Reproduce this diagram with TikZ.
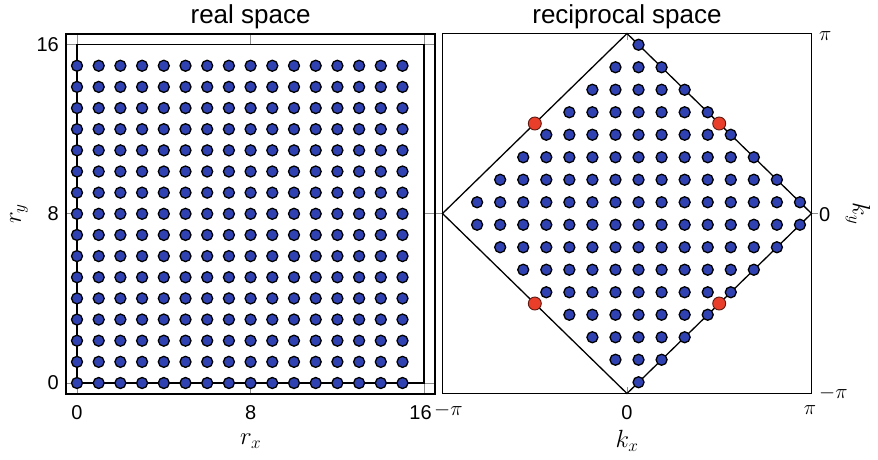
\documentclass[tikz,border=0pt]{standalone}
\usepackage{fontspec}
\setmainfont{Liberation Sans}
\definecolor{dotblue}{RGB}{48,66,178}
\definecolor{dotred}{RGB}{232,62,42}
\begin{document}
\begin{tikzpicture}[x=1pt,y=-1pt,
  bdot/.style={circle,draw=black,line width=1.3pt,fill=dotblue,inner sep=0pt,minimum size=11pt},
  rdot/.style={circle,draw=black!60!dotred,line width=0.9pt,fill=dotred,inner sep=0pt,minimum size=13pt},
  frame/.style={draw=black,line width=1.5pt},
  gridl/.style={draw=black!45,line width=0.8pt},
  bz/.style={draw=black,line width=1.3pt},
  title/.style={font=\fontsize{26}{26}\selectfont,inner sep=0pt},
  num/.style={font=\fontsize{20}{20}\selectfont,inner sep=0pt},
  mlab/.style={font=\fontsize{27}{27}\selectfont,inner sep=0pt},
  plab/.style={font=\fontsize{21}{21}\selectfont,inner sep=0pt}]
\useasboundingbox (0,0) rectangle (878,459);
% ---------- left panel: real space ----------
\draw[gridl] (77,34) -- (77,393.8);
\draw[gridl] (424.2,34) -- (424.2,393.8);
\draw[gridl] (66.2,383) -- (435,383);
\draw[gridl] (66.2,44.6) -- (435,44.6);
\draw[gridl] (250.6,34) -- (250.6,44.6);
\draw[gridl] (250.6,393.8) -- (250.6,383);
\draw[gridl] (66.2,213.8) -- (77,213.8);
\draw[gridl] (435,213.8) -- (424.2,213.8);
\draw[line width=1.5pt] (77,383) rectangle (424.2,44.6);
\draw[frame] (66.2,34) rectangle (435,393.8);
\foreach \i in {0,...,15} {
  \foreach \j in {0,...,15} {
    \node[bdot] (r-\i-\j) at ({77+21.7*\i},{383-21.15*\j}) {};
  }
}
\node[title] (t1) at (250.6,17) {real space};
\node[num,anchor=east] (ly16) at (59,45) {16};
\node[num,anchor=east] (ly8) at (59,213.8) {8};
\node[num,anchor=east] (ly0) at (59,383) {0};
\node[num] (lx0) at (77,413) {0};
\node[num] (lx8) at (250.6,413) {8};
\node[num] (lx16) at (420.5,413) {16};
\node[mlab] (rx) at (250.6,441) {$r_x$};
\node[mlab,rotate=90] (ry) at (19,213.8) {$r_y$};
% ---------- right panel: reciprocal space ----------
\draw[frame] (442.5,33.5) rectangle (811.5,393.5);
\draw[gridl] (627,33.5) -- (627,40);
\draw[gridl] (627,393.5) -- (627,387);
\draw[gridl] (442.5,213.5) -- (436,213.5);
\draw[gridl] (811.5,213.5) -- (818,213.5);
\coordinate (ktop) at (627,33.5);
\coordinate (kbot) at (627,393.5);
\coordinate (kleft) at (442.5,213.5);
\coordinate (kright) at (811.5,213.5);
\draw[bz] (ktop) -- (kright) -- (kbot) -- (kleft) -- cycle;
\foreach \m in {0,...,7} {
  \foreach \s in {1,-1} {
    \pgfmathtruncatemacro\lo{\m-7}
    \pgfmathtruncatemacro\hi{7-\m}
    \foreach \n in {\lo,...,\hi} {
      \node[bdot] (k-\m-\s-\n) at ({627+23.06*(\n+0.5)},{213.5-22.5*\s*(\m+0.5)}) {};
    }
  }
}
\node[rdot] (n1) at (534.8,123.5) {};
\node[rdot] (n2) at (719.2,123.5) {};
\node[rdot] (n3) at (534.8,303.5) {};
\node[rdot] (n4) at (719.2,303.5) {};
\node[title] (t2) at (627,17) {reciprocal space};
\node[plab,anchor=west] (kyp) at (819,36) {$\pi$};
\node[num,anchor=west] (ky0) at (819,215) {0};
\node[plab,anchor=west] (kym) at (819,393) {$-\pi$};
\node[plab,anchor=west] (kxm) at (434,410) {$-\pi$};
\node[num] (kx0) at (627,413) {0};
\node[plab] (kxp) at (810,410) {$\pi$};
\node[mlab] (kx) at (627,441) {$k_x$};
\node[mlab,rotate=-90] (ky) at (858,213.5) {$k_y$};
\end{tikzpicture}
\end{document}
